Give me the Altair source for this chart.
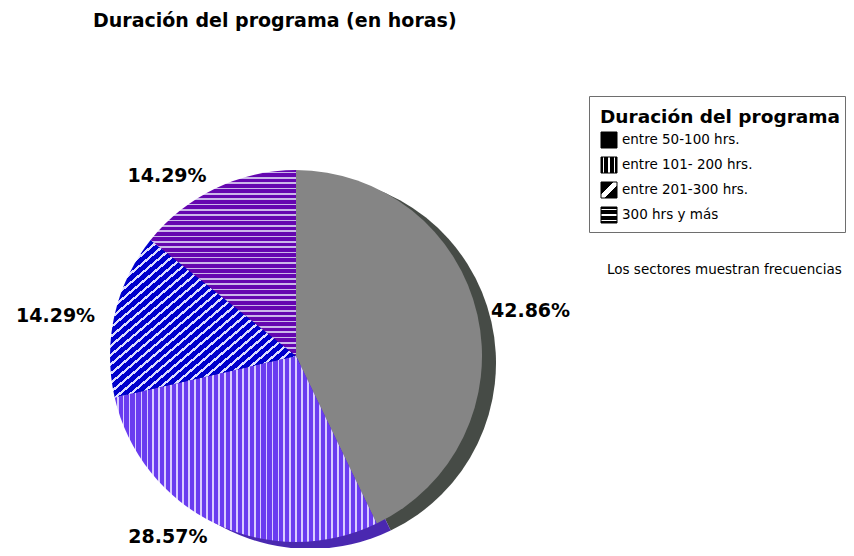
import math
import altair as alt
import pandas as pd

# ---- data ----
categories = ["entre 50-100 hrs.", "entre 101- 200 hrs.", "entre 201-300 hrs.", "300 hrs y más"]
counts = [3, 2, 1, 1]
pct_labels = ["42.86%", "28.57%", "14.29%", "14.29%"]
chart_title = "Duración del programa (en horas)"
legend_title = "Duración del programa"
footnote = "Los sectores muestran frecuencias"

df = pd.DataFrame({"cat": categories, "n": counts, "lab": pct_labels,
                   "k": list(range(len(categories)))})

# ---- layout / style ----
CX, CY, R = 288, 348, 186
SX, SY = 14, 7
FONT = "DejaVu Sans"


def stripes(base, line, n, frac, x2, y2):
    """Hard-edged linear gradient that imitates a hatch pattern."""
    stops = []
    for i in range(n):
        a = (i + 0.5 - frac / 2) / n
        b = (i + 0.5 + frac / 2) / n
        stops += [
            {"offset": round(i / n, 5), "color": base},
            {"offset": round(a, 5), "color": base},
            {"offset": round(a, 5), "color": line},
            {"offset": round(b, 5), "color": line},
            {"offset": round(b, 5), "color": base},
            {"offset": round((i + 1) / n, 5), "color": base},
        ]
    return {"gradient": "linear", "x1": 0, "y1": 0, "x2": x2, "y2": y2, "stops": stops}


def fill_by_k(fills):
    return alt.FillValue(
        value=fills[0],
        condition=[{"test": f"datum.k == {i}", "value": f} for i, f in enumerate(fills)][1:],
    )


face_fills = [
    "#858585",
    stripes("#6a3cf0", "#d9ccff", 44, 0.3, 1, 0),
    stripes("#0000cc", "#dcdcff", 34, 0.32, 1, 1),
    stripes("#6506b0", "#cbb6ea", 35, 0.3, 0, 1),
]
shadow_fills = ["#464b46", "#4a28b0", "#000090", "#45007a"]
swatch_fills = [
    "#000000",
    stripes("#000000", "#ffffff", 3, 0.3, 1, 0),
    stripes("#000000", "#ffffff", 1, 0.2, 1, 1),
    stripes("#000000", "#ffffff", 3, 0.3, 0, 1),
]

base = alt.Chart(df)
theta = alt.Theta("n:Q", stack=True)
order = alt.Order("k:Q", sort="ascending")

shadow = base.mark_arc(outerRadius=R).encode(
    theta=theta, order=order, x=alt.value(CX + SX), y=alt.value(CY + SY),
    fill=fill_by_k(shadow_fills),
)
face = base.mark_arc(outerRadius=R).encode(
    theta=theta, order=order, x=alt.value(CX), y=alt.value(CY),
    fill=fill_by_k(face_fills),
)

lab = (
    base.transform_joinaggregate(tot="sum(n)")
    .transform_window(cum="sum(n)", sort=[alt.SortField("k", order="ascending")], frame=[None, 0])
    .transform_calculate(mid="(datum.cum - datum.n / 2) / datum.tot")
)
ltheta = alt.Theta("mid:Q", scale=alt.Scale(domain=[0, 1], range=[0, 2 * math.pi]), stack=False)


def label_layer(flt, align, radius, dy):
    return lab.transform_filter(flt).mark_text(
        align=align, baseline="middle", font=FONT, fontSize=19, fontWeight="bold",
        color="black", dy=dy
    ).encode(theta=ltheta, radius=alt.value(radius), x=alt.value(CX), y=alt.value(CY),
             text="lab:N")


lab_right = label_layer("datum.mid < 0.5", "left", 200, 0)
lab_bottom = label_layer("datum.mid >= 0.5 && datum.mid < 0.75", "right", 204, -3)
lab_upper = label_layer("datum.mid >= 0.75", "right", 206, 6)

one = pd.DataFrame({"t": [chart_title], "lt": [legend_title], "fn": [footnote]})
title_t = alt.Chart(one).mark_text(
    align="left", baseline="alphabetic", font=FONT, fontSize=19, fontWeight="bold", color="black"
).encode(x=alt.value(85), y=alt.value(19), text="t:N")

box = alt.Chart(one).mark_rect(fill="white", stroke="#6e6e6e", strokeWidth=1).encode(
    x=alt.value(581.5), x2=alt.value(837.5), y=alt.value(88.5), y2=alt.value(224.5)
)
leg_title = alt.Chart(one).mark_text(
    align="left", baseline="alphabetic", font=FONT, fontSize=18.5, fontWeight="bold", color="black"
).encode(x=alt.value(592), y=alt.value(115), text="lt:N")

ly = alt.Y("k:Q", scale=alt.Scale(domain=[0, 3], range=[132, 207]), axis=None)
swatch = base.mark_square(size=256, stroke="black", strokeWidth=1, opacity=1).encode(
    x=alt.value(601), y=ly, fill=fill_by_k(swatch_fills)
)
leg_lab = base.mark_text(
    align="left", baseline="middle", font=FONT, fontSize=13.5, color="black"
).encode(x=alt.value(614), y=ly, text="cat:N")

foot = alt.Chart(one).mark_text(
    align="left", baseline="alphabetic", font=FONT, fontSize=13.5, color="black"
).encode(x=alt.value(599), y=alt.value(266), text="fn:N")

chart = (
    alt.layer(box, shadow, face, lab_right, lab_bottom, lab_upper, title_t, leg_title,
              swatch, leg_lab, foot)
    .resolve_scale(theta="independent")
    .properties(width=838, height=540, autosize=alt.AutoSizeParams(type="none"), padding=0,
                background="white")
    .configure_view(stroke=None)
)

chart.save("out.html", embed_options={"renderer": "svg", "actions": False})
